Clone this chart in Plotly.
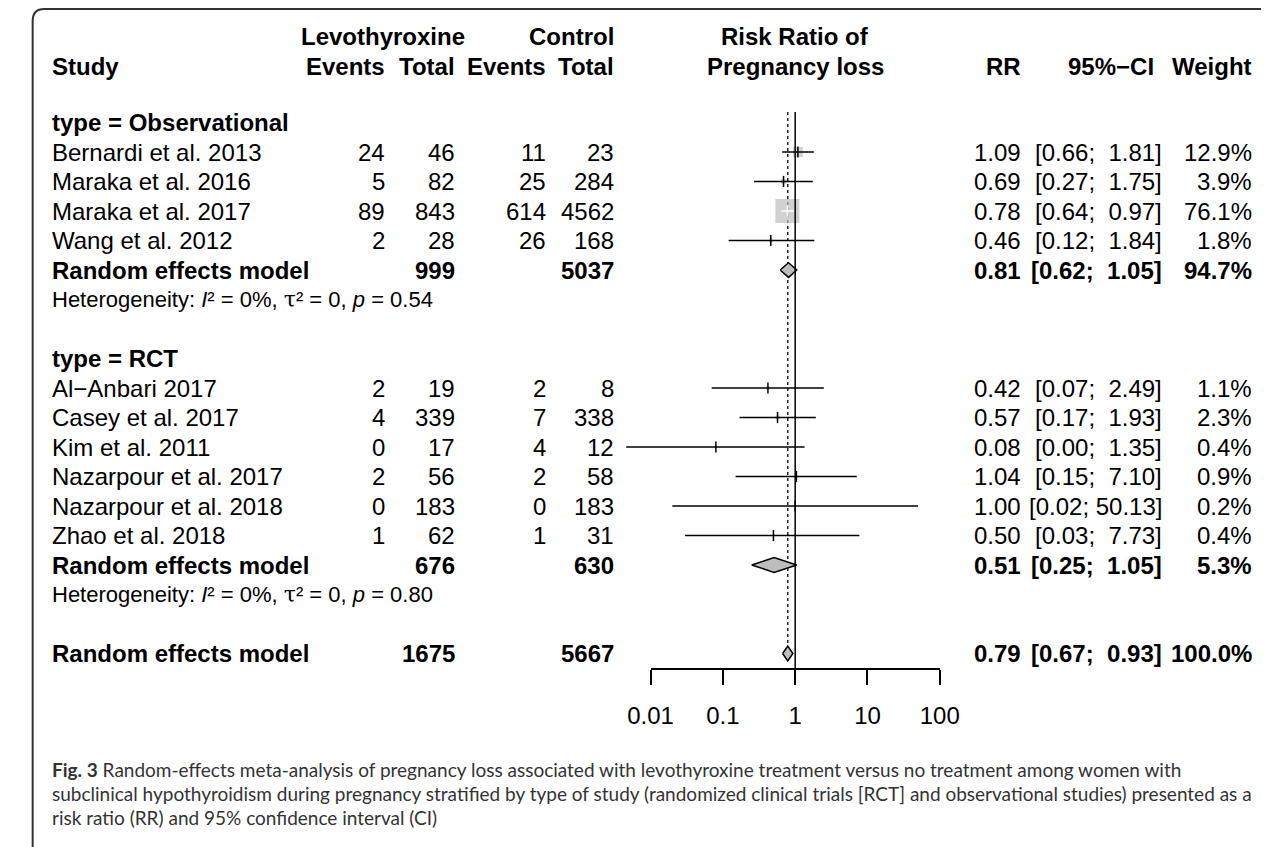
import math
import plotly.graph_objects as go

# ---------------- data ----------------
studies_obs = ["Bernardi et al. 2013", "Maraka et al. 2016", "Maraka et al. 2017", "Wang et al. 2012"]
ev_lev_obs = [24, 5, 89, 2]
n_lev_obs = [46, 82, 843, 28]
ev_ctl_obs = [11, 25, 614, 26]
n_ctl_obs = [23, 284, 4562, 168]
rr_obs = [1.09, 0.69, 0.78, 0.46]
lo_obs = [0.66, 0.27, 0.64, 0.12]
hi_obs = [1.81, 1.75, 0.97, 1.84]
w_obs = [12.9, 3.9, 76.1, 1.8]

studies_rct = ["Al\u2212Anbari 2017", "Casey et al. 2017", "Kim et al. 2011",
               "Nazarpour et al. 2017", "Nazarpour et al. 2018", "Zhao et al. 2018"]
ev_lev_rct = [2, 4, 0, 2, 0, 1]
n_lev_rct = [19, 339, 17, 56, 183, 62]
ev_ctl_rct = [2, 7, 4, 2, 0, 1]
n_ctl_rct = [8, 338, 12, 58, 183, 31]
rr_rct = [0.42, 0.57, 0.08, 1.04, 1.00, 0.50]
lo_rct = [0.07, 0.17, 0.0046, 0.15, 0.02, 0.03]
hi_rct = [2.49, 1.93, 1.35, 7.10, 50.13, 7.73]
w_rct = [1.1, 2.3, 0.4, 0.9, 0.2, 0.4]

pooled_n_lev = [999, 676, 1675]
pooled_n_ctl = [5037, 630, 5667]
pooled_rr = [0.81, 0.51, 0.79]
pooled_lo = [0.62, 0.25, 0.67]
pooled_hi = [1.05, 1.05, 0.93]
pooled_w = [94.7, 5.3, 100.0]

het_p = [0.54, 0.80, 0.77]
resid_p = 0.81
test_t = -3.18
test_df = 9
test_p = 0.01

axis_ticks = [0.01, 0.1, 1, 10, 100]
axis_ticktext = ["0.01", "0.1", "1", "10", "100"]

# ---------------- layout constants ----------------
W, H = 1281, 847
FONT = "Liberation Sans, Arial, Helvetica, sans-serif"
CAPFONT = "Lato, Open Sans, sans-serif"
PX_DEC = 74.8                # pixels per decade
X_ONE = 799.0                # pixel of RR = 1
ROW_PX = 29.5
ROW0_PX = 152.0              # pixel of first study row
AXIS_PX = 668.0              # pixel of x axis line
SQ_MAX = 24.0
GRAY = "#BEBEBE"

y_top = -ROW0_PX / ROW_PX
y_bot = (AXIS_PX - ROW0_PX) / ROW_PX

fig = go.Figure()

row_obs_title = -1
rows_obs = [0, 1, 2, 3]
row_obs_pool = 4
row_obs_het = 5
row_rct_title = 7
rows_rct = [8, 9, 10, 11, 12, 13]
row_rct_pool = 14
row_rct_het = 15
row_all_pool = 17
row_all_het = 18
row_resid = 19
row_test = 20
row_line_top = -1.36

# reference line at RR = 1 (on the tick axis x2)
fig.add_trace(go.Scatter(x=[1, 1], y=[row_line_top, y_bot], xaxis="x2", yaxis="y",
                         mode="lines", line=dict(color="black", width=1.5),
                         hoverinfo="skip", showlegend=False))
# dotted line at overall estimate
fig.add_trace(go.Scatter(x=[pooled_rr[2], pooled_rr[2]], y=[row_line_top, row_all_pool - 0.25],
                         mode="lines", line=dict(color="black", width=1.3, dash="dot"),
                         hoverinfo="skip", showlegend=False))

all_rr = rr_obs + rr_rct
all_lo = lo_obs + lo_rct
all_hi = hi_obs + hi_rct
all_w = w_obs + w_rct
all_rows = rows_obs + rows_rct
max_w = max(all_w)
sizes = [SQ_MAX * math.sqrt(w / max_w) for w in all_w]

fig.add_trace(go.Scatter(x=all_rr, y=all_rows, mode="markers",
                         marker=dict(symbol="square", size=sizes, color=GRAY, line=dict(width=0)),
                         hoverinfo="skip", showlegend=False))

inside = []
for rr, lo, hi, s in zip(all_rr, all_lo, all_hi, sizes):
    c = X_ONE + PX_DEC * math.log10(rr)
    inside.append((X_ONE + PX_DEC * math.log10(lo) >= c - s / 2) and
                  (X_ONE + PX_DEC * math.log10(hi) <= c + s / 2))
for flag, col in [(False, "black"), (True, "white")]:
    xs, ys = [], []
    for lo, hi, r, f in zip(all_lo, all_hi, all_rows, inside):
        if f == flag:
            xs += [lo, hi, None]
            ys += [r, r, None]
    if xs:
        fig.add_trace(go.Scatter(x=xs, y=ys, mode="lines", line=dict(color=col, width=1.5),
                                 hoverinfo="skip", showlegend=False))
fig.add_trace(go.Scatter(x=all_rr, y=all_rows, mode="markers",
                         marker=dict(symbol="line-ns", size=8,
                                     line=dict(width=1.5, color=["white" if f else "black" for f in inside])),
                         hoverinfo="skip", showlegend=False))

for rr, lo, hi, r in zip(pooled_rr, pooled_lo, pooled_hi, [row_obs_pool, row_rct_pool, row_all_pool]):
    fig.add_trace(go.Scatter(x=[lo, rr, hi, rr, lo], y=[r, r - 0.25, r, r + 0.25, r],
                             mode="lines", fill="toself", fillcolor=GRAY,
                             line=dict(color="black", width=1.5),
                             hoverinfo="skip", showlegend=False))

# ---------------- text ----------------
def txt(xpx, y, s, anchor="left", size=24, bold=False, yref="y", color="black", family=FONT):
    if bold:
        s = "<b>" + s + "</b>"
    fig.add_annotation(x=xpx / W, xref="paper", y=y, yref=yref, text=s, showarrow=False,
                       xanchor=anchor, yanchor="middle", borderpad=0, borderwidth=0,
                       font=dict(family=family, size=size, color=color))

def ci_str(lo, hi):
    pad = "\u00a0" if hi < 10 else ""
    return "[%.2f; %s%.2f]" % (lo, pad, hi)

X_STUDY = 30
X_EV_L, X_N_L, X_EV_C, X_N_C = 375, 447, 541, 612
X_RR, X_CI, X_W = 1033, 1179, 1272
HET_SIZE = 22
TAU = '<span style="font-family:DejaVu Serif">\u03c4</span>'

hdr1 = (36 - ROW0_PX) / ROW_PX
hdr2 = (66 - ROW0_PX) / ROW_PX
txt(372, hdr1, "Levothyroxine", anchor="center", bold=True)
txt(X_N_C, hdr1, "Control", anchor="right", bold=True)
txt(799, hdr1, "Risk Ratio of", anchor="center", bold=True)
txt(X_STUDY, hdr2, "Study", bold=True)
txt(X_EV_L, hdr2, "Events", anchor="right", bold=True)
txt(X_N_L, hdr2, "Total", anchor="right", bold=True)
txt(X_EV_C, hdr2, "Events", anchor="right", bold=True)
txt(X_N_C, hdr2, "Total", anchor="right", bold=True)
txt(799, hdr2, "Pregnancy loss", anchor="center", bold=True)
txt(X_RR, hdr2, "RR", anchor="right", bold=True)
txt(1126, hdr2, "95%\u2212CI", anchor="center", bold=True)
txt(X_W, hdr2, "Weight", anchor="right", bold=True)

def study_rows(names, el, nl, ec, nc, rr, lo, hi, w, rows):
    for i in range(len(names)):
        r = rows[i]
        txt(X_STUDY, r, names[i])
        txt(X_EV_L, r, str(el[i]), "right")
        txt(X_N_L, r, str(nl[i]), "right")
        txt(X_EV_C, r, str(ec[i]), "right")
        txt(X_N_C, r, str(nc[i]), "right")
        txt(X_RR, r, "%.2f" % rr[i], "right")
        txt(X_CI, r, ci_str(lo[i], hi[i]), "right")
        txt(X_W, r, "%.1f%%" % w[i], "right")

def pooled_row(k, r):
    txt(X_STUDY, r, "Random effects model", bold=True)
    txt(X_N_L, r, str(pooled_n_lev[k]), "right", bold=True)
    txt(X_N_C, r, str(pooled_n_ctl[k]), "right", bold=True)
    txt(X_RR, r, "%.2f" % pooled_rr[k], "right", bold=True)
    txt(X_CI, r, ci_str(pooled_lo[k], pooled_hi[k]), "right", bold=True)
    txt(X_W, r, "%.1f%%" % pooled_w[k], "right", bold=True)

def het(r, p):
    txt(X_STUDY, r, "Heterogeneity: <i>I</i>\u00b2 = 0%%, %s\u00b2 = 0, <i>p</i> = %.2f" % (TAU, p),
        size=HET_SIZE)

txt(X_STUDY, row_obs_title, "type = Observational", bold=True)
study_rows(studies_obs, ev_lev_obs, n_lev_obs, ev_ctl_obs, n_ctl_obs, rr_obs, lo_obs, hi_obs, w_obs, rows_obs)
pooled_row(0, row_obs_pool)
het(row_obs_het, het_p[0])

txt(X_STUDY, row_rct_title, "type = RCT", bold=True)
study_rows(studies_rct, ev_lev_rct, n_lev_rct, ev_ctl_rct, n_ctl_rct, rr_rct, lo_rct, hi_rct, w_rct, rows_rct)
pooled_row(1, row_rct_pool)
het(row_rct_het, het_p[1])

pooled_row(2, row_all_pool)
het(row_all_het, het_p[2])
txt(X_STUDY, row_resid, "Residual heterogeneity: <i>I</i>\u00b2 = 0%%, <i>p</i> = %.2f" % resid_p,
    size=HET_SIZE)
SUBDIG = str.maketrans("0123456789", "\u2080\u2081\u2082\u2083\u2084\u2085\u2086\u2087\u2088\u2089")
txt(X_STUDY, row_test, "Test for overall effect: <i>t</i>%s = \u2212%.2f (<i>p</i> = %.2f)"
    % (str(test_df).translate(SUBDIG), abs(test_t), test_p), size=HET_SIZE)

cap = ["<b>Fig. 3</b> Random-effects meta-analysis of pregnancy loss associated with levothyroxine treatment versus no treatment among women with",
       "subclinical hypothyroidism during pregnancy stratified by type of study (randomized clinical trials [RCT] and observational studies) presented as a",
       "risk ratio (RR) and 95% confidence interval (CI)"]
for i, line in enumerate(cap):
    txt(X_STUDY, 1 - (769 + 24 * i) / H, line, yref="paper", size=19, color="#333333", family=CAPFONT)

# frame with rounded top-left corner
lx, ty, rad = 10 / W, 1 - 9 / H, 12
fig.add_shape(type="path", xref="paper", yref="paper",
              path="M %f,0 L %f,%f Q %f,%f %f,%f L 1,%f" % (
                  lx, lx, ty - rad / H, lx, ty, lx + rad / W, ty, ty),
              line=dict(color="#333333", width=2))

d0 = (X_ONE - 2 * PX_DEC) / W
d1 = (X_ONE + 2 * PX_DEC) / W
fig.update_layout(
    width=W, height=H, margin=dict(l=0, r=0, t=0, b=0), autosize=False,
    paper_bgcolor="white", plot_bgcolor="rgba(0,0,0,0)", showlegend=False,
    xaxis=dict(type="log", domain=[0, 1], range=[-X_ONE / PX_DEC, (W - X_ONE) / PX_DEC],
               visible=False, anchor="y"),
    xaxis2=dict(type="log", domain=[d0, d1], range=[-2, 2], anchor="y",
                tickvals=axis_ticks, ticktext=axis_ticktext, ticks="outside",
                ticklen=15, tickwidth=1.5, tickcolor="black",
                showline=True, linecolor="black", linewidth=1.5,
                showgrid=False, zeroline=False, ticklabelstandoff=10,
                tickfont=dict(family=FONT, size=24, color="black")),
    yaxis=dict(range=[y_bot, y_top], domain=[1 - AXIS_PX / H, 1], visible=False),
)

fig.write_html("out.html", config={"responsive": False, "displayModeBar": False},
               post_script="document.body.style.margin='0';"
                           "document.documentElement.style.overflow='hidden';"
                           "document.body.style.overflow='hidden';")
